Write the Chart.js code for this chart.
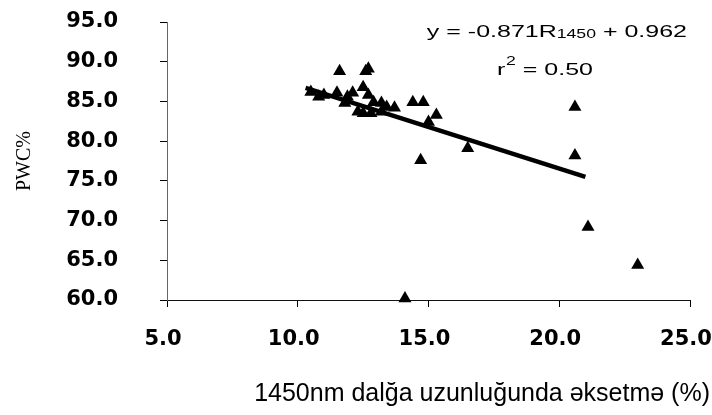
<!DOCTYPE html>
<html><head><meta charset="utf-8">
<script src="https://cdn.jsdelivr.net/npm/chart.js@4/dist/chart.umd.min.js"></script>
<style>html,body{margin:0;padding:0;background:#fff}#wrap{width:712px;height:415px}</style>
</head><body><div id="wrap"><canvas id="c" width="712" height="415"></canvas></div>
<script>
// Reflectance at 1450 nm (%) and plant water content (%)
const reflectance = [10.5, 10.8, 11.0, 11.5, 11.6, 11.8, 11.9, 12.1, 12.3, 12.5, 12.5, 12.6, 12.7, 12.7, 12.8, 12.9, 13.2, 13.2, 13.4, 13.7, 14.4, 14.8, 15.3, 15.0, 14.7, 16.5, 20.6, 20.6, 21.1, 23.0, 14.1];
const pwc         = [86.2, 85.6, 85.8, 86.1, 88.8, 84.8, 85.6, 86.1, 83.7, 86.8, 83.5, 88.8, 89.1, 85.8, 83.5, 84.9, 84.8, 83.7, 84.3, 84.2, 84.9, 84.9, 83.3, 82.4, 77.6, 79.1, 84.3, 78.2, 69.2, 64.4, 60.2];
const trendReflectance = [10.3, 21.0];
const trendPwc = [86.7, 75.5];
const xTickValues = [5, 10, 15, 20, 25];
const yTickValues = [60, 65, 70, 75, 80, 85, 90, 95];
const xTitle = '1450nm dalğa uzunluğunda əksetmə (%)';
const yTitle = 'PWC%';
const eqMain = 'y = -0.871R', eqSub = '1450', eqTail = ' + 0.962';
const r2Label = 'r', r2Sup = '2', r2Tail = ' = 0.50';

const points = reflectance.map((x, i) => ({x, y: pwc[i]}));
const trend = trendReflectance.map((x, i) => ({x, y: trendPwc[i]}));

const tickFont = {family: '"DejaVu Sans", sans-serif', size: 21, weight: 'bold'};

const textPlugin = {
  id: 'texts',
  afterDraw(chart) {
    const {ctx, chartArea: a} = chart;
    ctx.save();
    ctx.fillStyle = '#000';
    ctx.textBaseline = 'alphabetic';
    ctx.textAlign = 'left';
    const sx = 1.47;
    const fMain = '17px "Liberation Sans", Arial, sans-serif';
    const fSmall = '12px "Liberation Sans", Arial, sans-serif';
    const fSup = '12px "Liberation Sans", Arial, sans-serif';
    ctx.font = fMain; const w1 = ctx.measureText(eqMain).width; const w3 = ctx.measureText(eqTail).width;
    ctx.font = fSmall; const w2 = ctx.measureText(eqSub).width;
    const total = (w1 + w2 + w3) * sx;
    ctx.save();
    ctx.translate(a.right - 3 - total, a.top + 15);
    ctx.scale(sx, 1);
    ctx.font = fMain; ctx.fillText(eqMain, 0, 0);
    ctx.font = fSmall; ctx.fillText(eqSub, w1, 1);
    ctx.font = fMain; ctx.fillText(eqTail, w1 + w2, 0);
    ctx.restore();

    ctx.font = fMain; const v1 = ctx.measureText(r2Label).width;
    ctx.font = fSup; const v2 = ctx.measureText(r2Sup).width;
    ctx.save();
    ctx.translate(a.right - 193, a.top + 53);
    ctx.scale(sx, 1);
    ctx.font = fMain; ctx.fillText(r2Label, 0, 0);
    ctx.font = fSup; ctx.fillText(r2Sup, v1 + 0.5, -10);
    ctx.font = fMain; ctx.fillText(r2Tail, v1 + v2 + 0.5, 0);
    ctx.restore();

    ctx.font = '25px "Liberation Sans", Arial, sans-serif';
    ctx.textAlign = 'right';
    ctx.textBaseline = 'middle';
    ctx.fillText(xTitle, a.right + 20, a.bottom + 94);
    ctx.restore();
  }
};

new Chart(document.getElementById('c'), {
  type: 'scatter',
  data: {
    datasets: [
      {
        data: points,
        pointStyle: 'triangle',
        pointRadius: 7.5,
        pointHoverRadius: 7.5,
        backgroundColor: '#000',
        borderColor: '#000',
        borderWidth: 0,
        clip: false
      },
      {
        data: trend,
        showLine: true,
        borderColor: '#000',
        borderWidth: 4.5,
        pointRadius: 0,
        borderCapStyle: 'butt',
        clip: false
      }
    ]
  },
  options: {
    responsive: false,
    animation: false,
    devicePixelRatio: 1,
    layout: {padding: {left: 0, right: 22, top: 22, bottom: 0}},
    plugins: {legend: {display: false}, tooltip: {enabled: false}, title: {display: false}},
    scales: {
      x: {
        type: 'linear', min: 5, max: 25,
        afterBuildTicks: s => { s.ticks = xTickValues.map(v => ({value: v})); },
        afterFit: s => { s.height = 115; s.paddingLeft = 0; s.paddingRight = 0; },
        ticks: {color: '#000', font: tickFont, padding: 20, labelOffset: -4, maxRotation: 0, callback: v => Number(v).toFixed(1)},
        grid: {drawOnChartArea: false, drawTicks: true, tickLength: 7, color: '#000', lineWidth: 1},
        border: {display: true, color: '#111', width: 1}
      },
      y: {
        type: 'linear', min: 60, max: 95,
        afterBuildTicks: s => { s.ticks = yTickValues.map(v => ({value: v})); },
        afterFit: s => { s.width = 167; s.paddingTop = 0; s.paddingBottom = 0; },
        ticks: {color: '#000', font: tickFont, padding: 42, callback: v => Number(v).toFixed(1)},
        grid: {drawOnChartArea: false, drawTicks: true, tickLength: 7, color: '#000', lineWidth: 1},
        border: {display: true, color: '#666', width: 1},
        title: {display: true, text: yTitle, color: '#000', font: {family: '"Liberation Serif", "Times New Roman", serif', size: 20}, padding: {top: 13, bottom: 0}}
      }
    }
  },
  plugins: [textPlugin]
});
</script>
</body></html>
